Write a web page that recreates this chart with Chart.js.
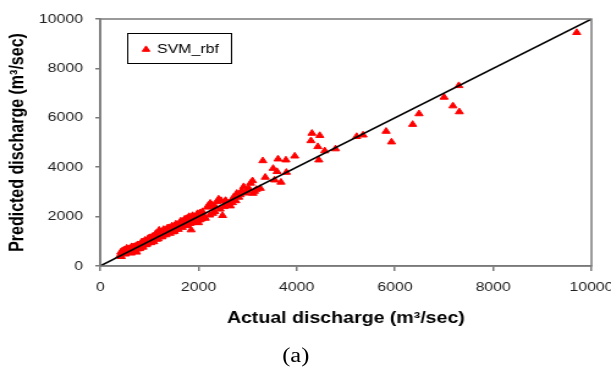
<!DOCTYPE html>
<html>
<head>
<meta charset="utf-8">
<script src="https://cdn.jsdelivr.net/npm/chart.js@4.4.0/dist/chart.umd.min.js"></script>
<style>
  html, body { margin: 0; padding: 0; background: #fff; overflow: hidden; }
  /* the reference is stretched sideways, so draw narrow and widen */
  #wrap { position: relative; width: 500px; height: 367px; transform: scaleX(1.222); transform-origin: 0 0; }
  #caption { position: absolute; left: 192px; width: 100px; top: 344px; text-align: center;
             font: 20px "Liberation Serif", "Times New Roman", serif; color: #000; }
</style>
</head>
<body>
<div id="wrap">
  <canvas id="chart" width="500" height="367"></canvas>
  <div id="caption">(a)</div>
</div>
<script>
// --- data (m3/sec) ---
const actualQ = [
  400, 420, 450, 470, 500, 520, 540, 560, 590, 610, 630, 650, 670, 700, 720, 740, 760, 790, 810, 830,
  850, 880, 900, 920, 950, 970, 1000, 1020, 1050, 1070, 1100, 1120, 1150, 1170, 1200, 1220, 1250, 1280, 1300, 1330,
  1350, 1380, 1400, 1430, 1450, 1480, 1500, 1530, 1560, 1580, 1610, 1630, 1660, 1690, 1710, 1740, 1760, 1790, 1810, 1850,
  1870, 1900, 1930, 1960, 2000, 2030, 2060, 2100, 2140, 2200, 2240, 2290, 2340, 2410, 2460, 2490, 2520, 2560, 2600, 2650,
  2690, 2720, 2780, 2820, 2880, 2920, 2960, 3060, 3100, 3110, 3180, 3260, 3310, 3360, 3520, 3550, 3600, 3620, 3680, 3780,
  3790, 3960, 4290, 4310, 4430, 4450, 4470, 4570, 4790, 5220, 5350, 5820, 5930, 6360, 6490, 7000, 7180, 7300, 7310, 9700,
  1010, 1130, 1240, 1360, 1470, 580, 690, 860,
  430, 480, 510, 550, 600, 640, 680, 720, 760, 800, 840, 870, 910, 940, 980, 1030, 1060, 1090, 1140, 1180,
  1210, 1260, 1290, 1340, 1370, 1420, 1460, 1510, 1540, 1590, 1640, 1670, 1720, 1760, 1800, 1830, 1880, 1920, 1980, 2020,
  2080, 2120, 2180, 2230, 2280, 2330, 2380, 2440, 2550, 2620, 2700, 2760, 2850, 2980, 3020, 3140
];
const predictedQ = [
  420, 560, 610, 500, 650, 560, 720, 540, 640, 700, 520, 760, 600, 700, 800, 560, 690, 850, 730, 900,
  800, 940, 860, 1000, 900, 1080, 960, 1150, 1020, 1200, 1100, 1280, 1080, 1250, 1450, 1180, 1330, 1250, 1400, 1300,
  1480, 1350, 1550, 1400, 1500, 1380, 1600, 1480, 1650, 1550, 1720, 1600, 1780, 1650, 1850, 1720, 1920, 1800, 2000, 1460,
  1880, 1980, 1820, 2050, 1750, 2150, 1900, 1980, 1930, 2450, 2540, 2130, 2400, 2710, 2650, 2040, 2400, 2620, 2500, 2430,
  2560, 2800, 2940, 2780, 3050, 3210, 2950, 3350, 3450, 2940, 3100, 3140, 4260, 3590, 3950, 3480, 3820, 4330, 3390, 4290,
  3790, 4450, 5070, 5370, 4830, 4290, 5280, 4660, 4740, 5240, 5300, 5450, 5020, 5730, 6160, 6830, 6480, 7300, 6240, 9450,
  1120, 1200, 1380, 1420, 1560, 700, 780, 980,
  380, 640, 480, 660, 560, 780, 640, 680, 860, 700, 960, 760, 1040, 860, 1120, 940, 1180, 980, 1320, 1100,
  1380, 1180, 1480, 1260, 1540, 1320, 1620, 1400, 1700, 1480, 1820, 1560, 1900, 1640, 1960, 1720, 2040, 1760, 2120, 1860,
  2200, 1980, 2380, 2060, 2480, 2200, 2600, 2300, 2650, 2560, 2680, 2640, 2880, 3050, 3150, 3020
];
const lineQ = [0, 10000];          // 1:1 line
const axisTicks = [0, 2000, 4000, 6000, 8000, 10000];
const seriesName = 'SVM_rbf';

const FONT = '"Liberation Sans", Arial, sans-serif';
const AXIS_GREY = '#7a7a7a';

// grey frame round the plot area
const frame = {
  id: 'frame',
  afterDatasetsDraw(chart) {
    const { ctx, chartArea: a } = chart;
    ctx.save();
    ctx.strokeStyle = AXIS_GREY;
    ctx.lineWidth = 1.5;
    ctx.strokeRect(a.left, a.top, a.right - a.left, a.bottom - a.top);
    ctx.restore();
  }
};

// boxed legend sitting inside the plot
const boxLegend = {
  id: 'boxLegend',
  afterDraw(chart) {
    const { ctx, chartArea: a } = chart;
    const ds = chart.data.datasets[1];
    const x = a.left + 22, y = a.top + 14;
    ctx.save();
    ctx.fillStyle = '#fff';
    ctx.fillRect(x, y, 85, 30);
    ctx.strokeStyle = '#000';
    ctx.lineWidth = 1;
    ctx.strokeRect(x + 0.5, y + 0.5, 85, 30);
    ctx.fillStyle = ds.backgroundColor;
    ctx.strokeStyle = ds.borderColor;
    Chart.helpers.drawPoint(ctx, { pointStyle: 'triangle', radius: 3.6, borderWidth: 1 }, x + 15.5, y + 16.5);
    ctx.fillStyle = '#000';
    ctx.font = '13px ' + FONT;
    ctx.textBaseline = 'alphabetic';
    ctx.fillText(ds.label, x + 24.5, y + 20);
    ctx.restore();
  }
};

const setTicks = s => { s.ticks = axisTicks.map(v => ({ value: v })); };

new Chart(document.getElementById('chart'), {
  type: 'scatter',
  data: {
    datasets: [
      {
        label: '1:1',
        data: lineQ.map(v => ({ x: v, y: v })),
        showLine: true,
        borderColor: '#000',
        borderWidth: 1.5,
        pointRadius: 0,
        order: 0,
      },
      {
        label: seriesName,
        data: actualQ.map((v, i) => ({ x: v, y: predictedQ[i] })),
        pointStyle: 'triangle',
        pointRadius: 3.8,
        borderWidth: 1,
        backgroundColor: '#ff0000',
        borderColor: '#ff0000',
        order: 1,
      },
    ],
  },
  options: {
    responsive: false,
    animation: false,
    layout: { padding: { left: 5, right: 16, top: 19, bottom: 39 } },
    plugins: {
      legend: { display: false },
      tooltip: { enabled: false },
    },
    scales: {
      x: {
        type: 'linear',
        min: 0, max: 10000,
        afterBuildTicks: setTicks,
        afterFit: s => { s.height = 62; s.paddingLeft = 0; s.paddingRight = 0; },
        grid: { drawOnChartArea: false, color: AXIS_GREY, lineWidth: 1.5, tickLength: 5 },
        border: { color: AXIS_GREY, width: 1.5 },
        ticks: { color: '#222', padding: 9, maxRotation: 0, callback: v => String(v), font: { family: FONT, size: 13 } },
        title: {
          display: true,
          text: 'Actual discharge (m³/sec)',
          color: '#000',
          padding: 0,
          font: { family: FONT, size: 16, weight: 'bold' },
        },
      },
      y: {
        type: 'linear',
        min: 0, max: 10000,
        afterBuildTicks: setTicks,
        afterFit: s => { s.width = 77; s.paddingTop = 0; s.paddingBottom = 0; },
        grid: { drawOnChartArea: false, color: AXIS_GREY, lineWidth: 1.5, tickLength: 4 },
        border: { color: AXIS_GREY, width: 1.5 },
        ticks: { color: '#222', padding: 10, callback: v => String(v), font: { family: FONT, size: 13 } },
        title: {
          display: true,
          text: 'Predicted discharge (m³/sec)',
          color: '#000',
          padding: 0,
          font: { family: FONT, size: 16, weight: 'bold' },
        },
      },
    },
  },
  plugins: [frame, boxLegend],
});
</script>
</body>
</html>
